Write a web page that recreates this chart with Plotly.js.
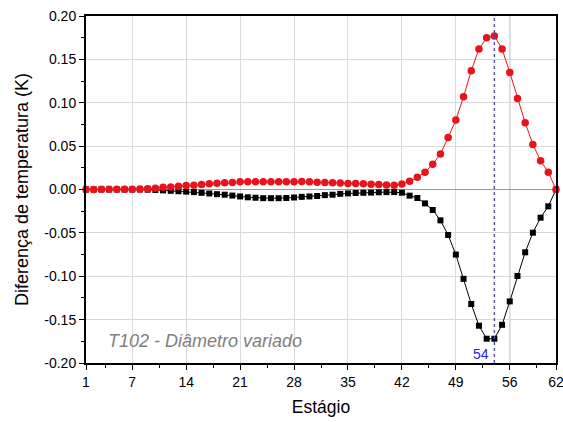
<!DOCTYPE html>
<html>
<head>
<meta charset="utf-8">
<script src="https://cdn.plot.ly/plotly-3.0.1.min.js"></script>
<style>
html,body{margin:0;padding:0;background:#fff;}
#chart{width:563px;height:422px;}
</style>
</head>
<body>
<div id="chart"></div>
<script>
const stages = [];
for (let i = 1; i <= 62; i++) stages.push(i);

const redValues = [
  0, 0, 0.0002, 0.0003, 0.0003, 0.0002, 0.0003, 0.0005, 0.001, 0.0015,
  0.0025, 0.003, 0.0038, 0.0045, 0.005, 0.0058, 0.0065, 0.0072, 0.0077, 0.008,
  0.0088, 0.0088, 0.009, 0.009, 0.009, 0.009, 0.009, 0.0088, 0.0092, 0.009,
  0.0085, 0.008, 0.0078, 0.0074, 0.007, 0.0068, 0.0065, 0.006, 0.0058, 0.0052,
  0.0048, 0.0063, 0.0094, 0.014, 0.020, 0.029, 0.041, 0.060, 0.080, 0.107,
  0.137, 0.162, 0.175, 0.177, 0.162, 0.135, 0.105, 0.077, 0.052, 0.033,
  0.020, 0.0
];

const blackValues = [
  0, 0, 0, 0, 0, 0, 0, 0, -0.0002, -0.0005,
  -0.001, -0.0015, -0.002, -0.0025, -0.003, -0.0038, -0.0046, -0.0054, -0.006, -0.007,
  -0.008, -0.009, -0.0095, -0.010, -0.010, -0.010, -0.0098, -0.0092, -0.0085, -0.008,
  -0.0075, -0.0065, -0.006, -0.005, -0.0045, -0.004, -0.0038, -0.0036, -0.0032, -0.003,
  -0.003, -0.0037, -0.0071, -0.0098, -0.016, -0.0236, -0.0356, -0.0524, -0.075, -0.103,
  -0.132, -0.157, -0.172, -0.172, -0.156, -0.129, -0.0997, -0.0724, -0.0498, -0.0325,
  -0.0194, 0.0
];

const xTickVals = [1, 7, 14, 21, 28, 35, 42, 49, 56, 62];
const xTickText = ['1', '7', '14', '21', '28', '35', '42', '49', '56', '62'];
const xMinorVals = [3.5, 10.5, 17.5, 24.5, 31.5, 38.5, 45.5, 52.5, 59.5];
const yTickVals = [-0.20, -0.15, -0.10, -0.05, 0.00, 0.05, 0.10, 0.15, 0.20];
const yTickText = ['-0.20', '-0.15', '-0.10', '-0.05', '0.00', '0.05', '0.10', '0.15', '0.20'];
const markedStage = 54;
const markedLabel = '54';
const noteText = 'T102 - Diâmetro variado';

const traces = [
  {
    x: stages, y: blackValues, type: 'scatter', mode: 'lines+markers',
    line: {color: '#000000', width: 1},
    marker: {symbol: 'square', size: 6, color: '#000000'},
    cliponaxis: false, showlegend: false
  },
  {
    x: stages, y: redValues, type: 'scatter', mode: 'lines+markers',
    line: {color: '#e8141c', width: 1},
    marker: {symbol: 'circle', size: 7.5, color: '#e8141c'},
    cliponaxis: false, showlegend: false
  }
];

const layout = {
  width: 563, height: 422,
  margin: {l: 86, r: 7, t: 16, b: 59},
  paper_bgcolor: '#ffffff', plot_bgcolor: '#ffffff',
  font: {family: 'Liberation Sans, Arial, sans-serif', size: 14, color: '#000'},
  showlegend: false,
  xaxis: {
    range: [1, 62],
    tickmode: 'array', tickvals: xTickVals, ticktext: xTickText,
    ticks: 'outside', ticklen: 5, tickwidth: 1, tickcolor: '#000',
    minor: {tickmode: 'array', tickvals: xMinorVals, ticks: 'outside', ticklen: 3, tickcolor: '#000', showgrid: false},
    showgrid: true, gridcolor: '#d9d9d9', gridwidth: 1,
    showline: true, linecolor: '#000', linewidth: 2, mirror: true,
    zeroline: false,
    ticklabeloverflow: 'allow',
    tickfont: {size: 14, color: '#000'},
    title: {text: 'Estágio', font: {size: 17.5, color: '#000'}, standoff: 12}
  },
  yaxis: {
    range: [-0.20, 0.20],
    tickmode: 'array', tickvals: yTickVals, ticktext: yTickText,
    ticks: 'outside', ticklen: 5, tickwidth: 1, tickcolor: '#000',
    minor: {dtick: 0.025, tick0: 0, ticks: 'outside', ticklen: 3, tickcolor: '#000', showgrid: false},
    showgrid: true, gridcolor: '#d9d9d9', gridwidth: 1,
    showline: true, linecolor: '#000', linewidth: 2, mirror: true,
    zeroline: true, zerolinecolor: '#9a9a9a', zerolinewidth: 1,
    tickfont: {size: 14, color: '#000'},
    title: {text: 'Diferença de temperatura (K)', font: {size: 18, color: '#000'}, standoff: 11}
  },
  shapes: [
    {type: 'line', xref: 'x', yref: 'paper', x0: 56, x1: 56, y0: 0, y1: 1,
     line: {color: '#9a9a9a', width: 1}, layer: 'below'},
    {type: 'line', xref: 'x', yref: 'paper', x0: markedStage, x1: markedStage, y0: 0, y1: 1,
     line: {color: '#5050a0', width: 1.4, dash: '3px,3px'}, layer: 'above'}
  ],
  annotations: [
    {x: markedStage, y: -0.19, xref: 'x', yref: 'y', text: markedLabel, showarrow: false,
     xanchor: 'right', yanchor: 'middle', xshift: -3,
     font: {size: 14, color: '#2323f0'}},
    {x: 3.6, y: -0.1745, xref: 'x', yref: 'y', text: noteText, showarrow: false,
     xanchor: 'left', yanchor: 'middle',
     font: {size: 18, color: '#808080', family: 'Liberation Sans, Arial, sans-serif'}}
  ]
};

Plotly.newPlot('chart', traces, layout, {displayModeBar: false, staticPlot: true}).then(() => {
  document.querySelectorAll('.annotation-text').forEach(el => {
    if (el.textContent.indexOf('T102') === 0) el.style.fontStyle = 'italic';
  });
});
</script>
</body>
</html>
